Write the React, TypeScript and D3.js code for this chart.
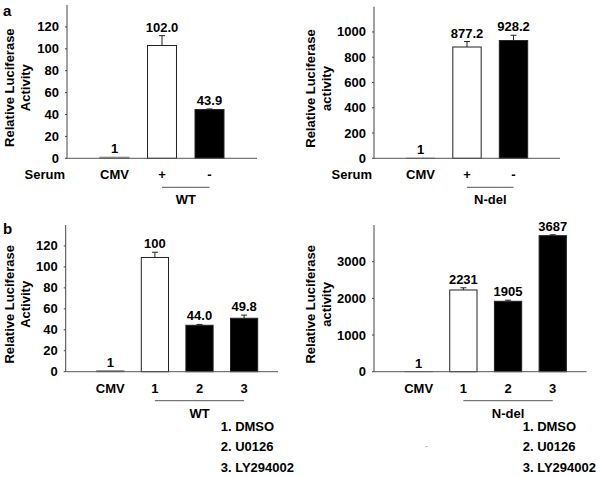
import * as d3 from 'd3';

// panel a: serum
const serumCats = ['CMV', '+', '-'];
const serumWT = [1, 103, 44.5];
const serumWTErr = [0, 9, 0.6];
const serumWTLabels = ['1', '102.0', '43.9'];
const serumNdel = [1, 881, 932];
const serumNdelErr = [0, 43, 42];
const serumNdelLabels = ['1', '877.2', '928.2'];

// panel b: inhibitors
const drugCats = ['CMV', '1', '2', '3'];
const drugWT = [1, 109, 44.3, 51];
const drugWTErr = [0, 5, 0.8, 3];
const drugWTLabels = ['1', '100', '44.0', '49.8'];
const drugNdel = [1, 2228, 1920, 3709];
const drugNdelErr = [0, 60, 30, 25];
const drugNdelLabels = ['1', '2231', '1905', '3687'];
const drugLegend = ['1. DMSO', '2. U0126', '3. LY294002'];

const FONT = '"Liberation Sans", Arial, sans-serif';

type PanelProps = {
  x0: number; x1: number; yBase: number; yTop: number;
  yMax: number; ticks: number[];
  cats: string[]; values: number[]; errs: number[]; labels: string[];
  span: number; group: string; titleLine2: string; titleX: number;
  serum?: boolean;
};

function Panel(p: PanelProps) {
  const x = d3.scaleLinear().domain([0, p.span]).range([p.x0, p.x1]);
  const y = d3.scaleLinear().domain([0, p.yMax]).range([p.yBase, p.yTop]);
  const step = x(1) - x(0);
  const bw = step * 0.61;
  const fills = p.cats.map((c, i) => (i < 2 ? '#fff' : '#000'));
  const titleY = (p.yBase + p.yTop) / 2 + 6;
  const lineY = p.yBase + 29;
  return (
    <g fontFamily={FONT} fontWeight="bold">
      {/* y title */}
      <text transform={`translate(${p.titleX},${titleY}) rotate(-90)`} textAnchor="middle" fontSize={13}>
        <tspan x={0} dy={0}>Relative Luciferase</tspan>
        <tspan x={0} dy={15.5}>{p.titleLine2}</tspan>
      </text>
      {/* bars */}
      {p.values.map((v, i) => {
        const cx = x(i + 1);
        return (
          <g key={i}>
            <rect x={cx - bw / 2} y={y(v)} width={bw} height={p.yBase - y(v)}
              fill={fills[i]} stroke={i === 0 ? '#888' : '#222'} strokeWidth={1} />
            {p.errs[i] > 0 && (
              <g stroke="#222" strokeWidth={1}>
                <line x1={cx} x2={cx} y1={y(v)} y2={y(v + p.errs[i])} />
                <line x1={cx - 3} x2={cx + 3} y1={y(v + p.errs[i])} y2={y(v + p.errs[i])} />
              </g>
            )}
            <text x={cx} y={y(v + p.errs[i]) - 4} textAnchor="middle" fontSize={13}>{p.labels[i]}</text>
            <text x={cx} y={p.yBase + 21} textAnchor="middle" fontSize={13}>{p.cats[i]}</text>
          </g>
        );
      })}
      {/* axes */}
      <line x1={p.x0} x2={p.x0} y1={p.yTop} y2={p.yBase} stroke="#444" />
      <line x1={p.x0} x2={p.x1} y1={p.yBase} y2={p.yBase} stroke="#555" />
      {p.ticks.map(t => (
        <g key={t}>
          <line x1={p.x0 - 2} x2={p.x0} y1={y(t)} y2={y(t)} stroke="#444" />
          <text x={p.x0 - 8} y={y(t) + 4.5} textAnchor="end" fontSize={13}>{t}</text>
        </g>
      ))}
      {p.serum && (
        <text x={p.x0 - 2} y={p.yBase + 21} textAnchor="end" fontSize={13}>Serum</text>
      )}
      <line x1={x(2)} x2={x(p.cats.length)} y1={lineY} y2={lineY} stroke="#555" />
      <text x={(x(2) + x(p.cats.length)) / 2} y={lineY + 17} textAnchor="middle" fontSize={13}>{p.group}</text>
    </g>
  );
}

export default function App() {
  return (
    <svg width={600} height={477} style={{ position: 'absolute', left: 0, top: 0, background: '#fff' }}>
      <rect width={600} height={477} fill="#fff" />
      <text x={3} y={16} fontFamily={FONT} fontWeight="bold" fontSize={15}>a</text>
      <text x={3} y={234} fontFamily={FONT} fontWeight="bold" fontSize={15}>b</text>
      <Panel x0={67} x1={257} yBase={158.3} yTop={5} yMax={140} ticks={[0, 20, 40, 60, 80, 100, 120]}
        cats={serumCats} values={serumWT} errs={serumWTErr} labels={serumWTLabels}
        span={4} group="WT" titleLine2="Activity" titleX={14} serum />
      <Panel x0={374} x1={560} yBase={158.3} yTop={6.7} yMax={1200} ticks={[0, 200, 400, 600, 800, 1000]}
        cats={serumCats} values={serumNdel} errs={serumNdelErr} labels={serumNdelLabels}
        span={4} group="N-del" titleLine2="activity" titleX={315} serum />
      <Panel x0={65.7} x1={278} yBase={371.7} yTop={225} yMax={140} ticks={[0, 20, 40, 60, 80, 100, 120]}
        cats={drugCats} values={drugWT} errs={drugWTErr} labels={drugWTLabels}
        span={4.76} group="WT" titleLine2="Activity" titleX={14} />
      <Panel x0={374} x1={586.7} yBase={371.7} yTop={225} yMax={4000} ticks={[0, 1000, 2000, 3000]}
        cats={drugCats} values={drugNdel} errs={drugNdelErr} labels={drugNdelLabels}
        span={4.76} group="N-del" titleLine2="activity" titleX={315} />
      <g fontFamily={FONT} fontWeight="bold" fontSize={13}>
        {drugLegend.map((l, i) => (
          <g key={l}>
            <text x={220.7} y={430.5 + i * 20.5}>{l}</text>
            <text x={522.7} y={430.5 + i * 20.5}>{l}</text>
          </g>
        ))}
        <text x={425} y={449} fill="#bbb" fontSize={9}>-</text>
      </g>
    </svg>
  );
}
